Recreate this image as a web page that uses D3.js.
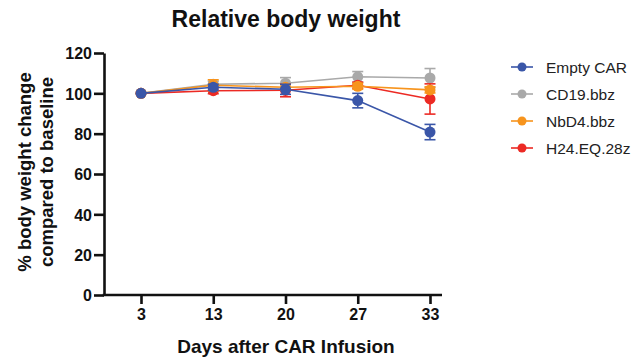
<!DOCTYPE html>
<html><head><meta charset="utf-8">
<script src="https://cdn.jsdelivr.net/npm/d3@7"></script>
<style>body{margin:0;background:#fff}svg{display:block}</style>
</head><body>
<script>
const days = ["3","13","20","27","33"];
const yTicks = [0,20,40,60,80,100,120];
const seriesNames = ["Empty CAR","CD19.bbz","NbD4.bbz","H24.EQ.28z"];
const colors = ["#3a56a8","#a9a9a9","#f7941d","#ec2a24"];
const emptyCAR = [100, 103.0, 102.0, 96.4, 80.8];
const emptyCARErr = [0, 1.5, 2.5, 3.6, 3.8];
const cd19 = [100, 104.5, 105.0, 108.2, 107.6];
const cd19Err = [0, 1.5, 2.8, 2.6, 4.7];
const nbd4 = [100, 104.0, 103.0, 103.5, 101.7];
const nbd4Err = [0, 2.7, 1.5, 1.5, 1.5];
const h24 = [100, 101.3, 101.5, 104.0, 97.2];
const h24Err = [0, 1.5, 3.2, 1.5, 7.5];

const series = [
  {name: seriesNames[0], values: emptyCAR, err: emptyCARErr, color: colors[0]},
  {name: seriesNames[1], values: cd19, err: cd19Err, color: colors[1]},
  {name: seriesNames[2], values: nbd4, err: nbd4Err, color: colors[2]},
  {name: seriesNames[3], values: h24, err: h24Err, color: colors[3]}
];
const drawOrder = [1, 3, 2, 0];

const W = 634, H = 360;
const FONT = "'Liberation Sans', Arial, Helvetica, sans-serif";
const svg = d3.select("body").append("svg").attr("width", W).attr("height", H)
  .style("font-family", FONT);

const x = d3.scalePoint().domain(days).range([141, 430]);
const y = d3.scaleLinear().domain([0, 120]).range([295, 53]);
const axisLeftX = 104, axisRightX = 442;

// axes
const yAxis = svg.append("g").attr("transform", `translate(${axisLeftX},0)`)
  .call(d3.axisLeft(y).tickValues(yTicks).tickSize(10).tickPadding(2).tickSizeOuter(0));
const xAxis = svg.append("g").attr("transform", `translate(0,${y(0)})`)
  .call(d3.axisBottom(x).tickSize(9).tickPadding(5).tickSizeOuter(0));
xAxis.select(".domain").attr("d", `M${axisLeftX - 1.3},0H${axisRightX}`);
[yAxis, xAxis].forEach(g => {
  g.selectAll(".domain").attr("stroke", "#111").attr("stroke-width", 2.6);
  g.selectAll(".tick line").attr("stroke", "#111").attr("stroke-width", 2.6);
  g.selectAll(".tick text").attr("fill", "#111").attr("font-size", 16).attr("font-weight", "bold")
   .attr("font-family", FONT);
});
yAxis.selectAll(".tick text").attr("dy", "0.36em");

// series
const line = d3.line().x((d, i) => x(days[i])).y(d => y(d));
drawOrder.forEach(k => {
  const s = series[k];
  const g = svg.append("g");
  g.append("path").attr("d", line(s.values)).attr("fill", "none")
    .attr("stroke", s.color).attr("stroke-width", 1.6);
  s.values.forEach((v, i) => {
    const e = s.err[i];
    if (e > 0) {
      const cx = x(days[i]);
      g.append("line").attr("x1", cx).attr("x2", cx).attr("y1", y(v - e)).attr("y2", y(v + e))
        .attr("stroke", s.color).attr("stroke-width", 1.6);
      [v - e, v + e].forEach(t => g.append("line").attr("x1", cx - 5.5).attr("x2", cx + 5.5)
        .attr("y1", y(t)).attr("y2", y(t)).attr("stroke", s.color).attr("stroke-width", 1.6));
    }
  });
  g.selectAll("circle").data(s.values).enter().append("circle")
    .attr("cx", (d, i) => x(days[i])).attr("cy", d => y(d)).attr("r", 5.5).attr("fill", s.color);
});

// title
svg.append("text").attr("x", 286).attr("y", 27).attr("text-anchor", "middle")
  .attr("font-size", 23).attr("font-weight", "bold").attr("fill", "#111").text("Relative body weight");
// x label
svg.append("text").attr("x", 286).attr("y", 353).attr("text-anchor", "middle")
  .attr("font-size", 19).attr("font-weight", "bold").attr("fill", "#111").text("Days after CAR Infusion");
// y label
const yl = svg.append("text").attr("transform", "translate(31,172) rotate(-90)")
  .attr("text-anchor", "middle").attr("font-size", 18.5).attr("font-weight", "bold").attr("fill", "#111");
yl.append("tspan").attr("x", 0).attr("dy", 0).text("% body weight change");
yl.append("tspan").attr("x", 0).attr("dy", 22).text("compared to baseline");

// legend
const lg = svg.append("g");
series.forEach((s, i) => {
  const ly = 67 + i * 27;
  lg.append("line").attr("x1", 511).attr("x2", 533).attr("y1", ly).attr("y2", ly)
    .attr("stroke", s.color).attr("stroke-width", 1.6);
  lg.append("circle").attr("cx", 522).attr("cy", ly).attr("r", 4.5).attr("fill", s.color);
  lg.append("text").attr("x", 546).attr("y", ly).attr("dy", "0.36em").attr("font-size", 15.5)
    .attr("fill", "#222").text(s.name);
});
</script>
</body></html>
